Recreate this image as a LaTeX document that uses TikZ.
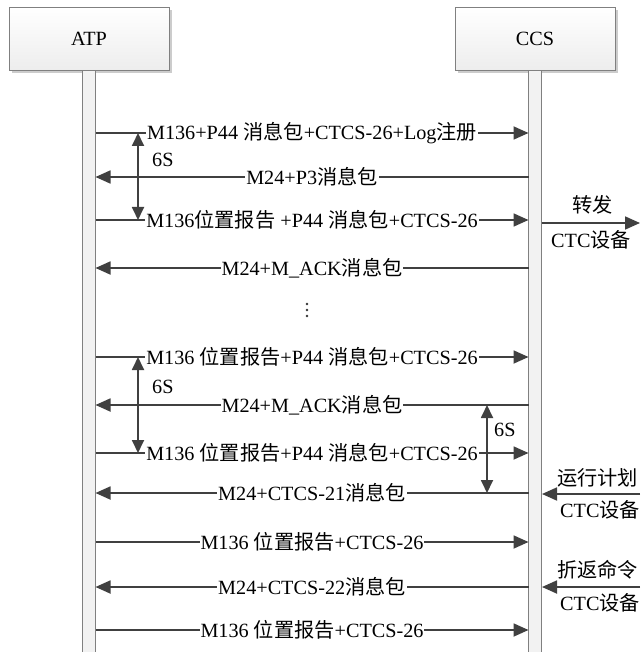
\documentclass[tikz,border=0pt]{standalone}
\usepackage{fontspec}
\setmainfont{Liberation Serif}
\newfontfamily\cjk{Noto Sans CJK SC}
\usetikzlibrary{arrows.meta}
\newcommand{\zh}[1]{{\cjk #1}}
\definecolor{linec}{HTML}{404040}
\definecolor{boxborder}{HTML}{808080}
\definecolor{shadowc}{HTML}{CCCCCC}
\begin{document}
\begin{tikzpicture}[x=1pt,y=-1pt,
  every node/.style={font=\fontsize{20.2}{23}\selectfont},
  actor/.style={draw=boxborder, line width=0.8pt, top color=white, bottom color=black!7,
    minimum width=160pt, minimum height=63pt, inner sep=0pt},
  life/.style={draw=boxborder, line width=0.8pt, fill=black!5},
  msg/.style={draw=linec, line width=1.8pt, -{Triangle[length=15pt,width=13pt]}},
  span/.style={draw=linec, line width=1.8pt, {Triangle[length=13pt,width=12pt]}-{Triangle[length=13pt,width=12pt]}},
  lbl/.style={fill=white, inner sep=1pt, text=black},
  side/.style={inner sep=0pt, anchor=west, text=black}
]
\useasboundingbox (0,0) rectangle (640,652);
\fill[white] (0,0) rectangle (640,652);
% shadows
\fill[shadowc] (12,10) rectangle (172,73);
\fill[shadowc] (458,10) rectangle (618,73);
% actors
\node[actor] (atp) at (89,38.5) {ATP};
\node[actor] (ccs) at (535,38.5) {CCS};
% lifelines
\draw[life] (82.5,70) rectangle (95.5,660);
\draw[life] (528.5,70) rectangle (541.5,660);
% coordinates for messages
\foreach \n/\y in {1/133,2/177,3/220,4/268,5/357,6/405,7/453,8/493,9/542,10/587,11/630}{
  \coordinate (a\n) at (95.5,\y);
  \coordinate (c\n) at (528.5,\y);
}
% messages
\draw[msg] (a1) -- node[lbl]{M136+P44 \zh{消息包}+CTCS-26+Log\zh{注册}} (c1);
\draw[msg] (c2) -- node[lbl]{M24+P3\zh{消息包}} (a2);
\draw[msg] (a3) -- node[lbl]{M136\zh{位置报告} +P44 \zh{消息包}+CTCS-26} (c3);
\draw[msg] (c4) -- node[lbl]{M24+M\_ACK\zh{消息包}} (a4);
% vertical ellipsis
\foreach \y in {304,310,316} \fill[black!80] (307,\y) circle (1.3);
\draw[msg] (a5) -- node[lbl]{M136 \zh{位置报告}+P44 \zh{消息包}+CTCS-26} (c5);
\draw[msg] (c6) -- node[lbl]{M24+M\_ACK\zh{消息包}} (a6);
\draw[msg] (a7) -- node[lbl]{M136 \zh{位置报告}+P44 \zh{消息包}+CTCS-26} (c7);
\draw[msg] (c8) -- node[lbl]{M24+CTCS-21\zh{消息包}} (a8);
\draw[msg] (a9) -- node[lbl]{M136 \zh{位置报告}+CTCS-26} (c9);
\draw[msg] (c10) -- node[lbl]{M24+CTCS-22\zh{消息包}} (a10);
\draw[msg] (a11) -- node[lbl]{M136 \zh{位置报告}+CTCS-26} (c11);
% 6S spans
\coordinate (s1t) at (138,133); \coordinate (s1b) at (138,220);
\coordinate (s2t) at (138,357); \coordinate (s2b) at (138,453);
\coordinate (s3t) at (487,405); \coordinate (s3b) at (487,493);
\draw[span] (s1t) -- (s1b);
\draw[span] (s2t) -- (s2b);
\draw[span] (s3t) -- (s3b);
\node[side] (t1) at (152,160) {6S};
\node[side] (t2) at (152,387) {6S};
\node[side] (t3) at (494,430) {6S};
% external CTC
\coordinate (e1s) at (541.5,223); \coordinate (e1e) at (640,223);
\draw[msg] (e1s) -- (e1e);
\node[side] (f1) at (572,205) {\zh{转发}};
\node[side] (g1) at (551,240) {CTC\zh{设备}};
\coordinate (e2s) at (640,494); \coordinate (e2e) at (542,494);
\draw[msg] (e2s) -- (e2e);
\node[side] (f2) at (557,478) {\zh{运行计划}};
\node[side] (g2) at (560,510) {CTC\zh{设备}};
\coordinate (e3s) at (640,587); \coordinate (e3e) at (542,587);
\draw[msg] (e3s) -- (e3e);
\node[side] (f3) at (557,570) {\zh{折返命令}};
\node[side] (g3) at (560,603) {CTC\zh{设备}};
\end{tikzpicture}
\end{document}
